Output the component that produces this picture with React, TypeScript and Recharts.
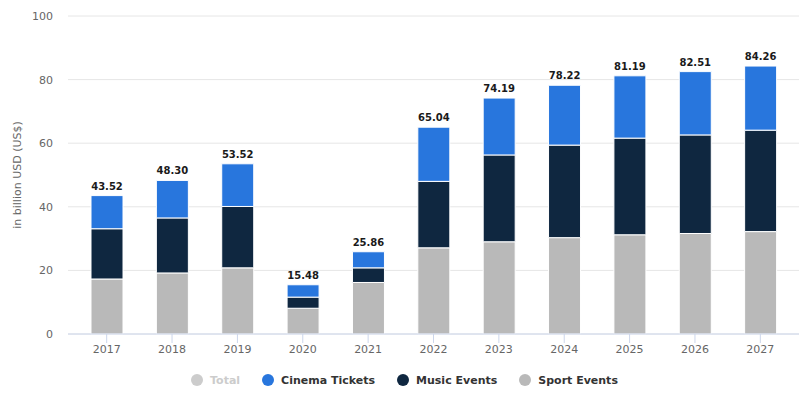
import React from "react";
import {
  ComposedChart,
  Bar,
  XAxis,
  YAxis,
  CartesianGrid,
  Legend,
  LabelList,
} from "recharts";

const years = ["2017", "2018", "2019", "2020", "2021", "2022", "2023", "2024", "2025", "2026", "2027"];
const sportEvents = [17.3, 19.2, 20.8, 8.1, 16.2, 27.1, 29.0, 30.3, 31.2, 31.6, 32.2];
const musicEvents = [15.8, 17.3, 19.3, 3.5, 4.6, 20.9, 27.3, 29.1, 30.4, 31.0, 31.9];
const totals = [43.52, 48.3, 53.52, 15.48, 25.86, 65.04, 74.19, 78.22, 81.19, 82.51, 84.26];
const yTicks = [0, 20, 40, 60, 80, 100];

const legendItems = [
  { name: "Total", color: "#cccccc", text: "#cccccc" },
  { name: "Cinema Tickets", color: "#2876dd", text: "#333333" },
  { name: "Music Events", color: "#0f2740", text: "#333333" },
  { name: "Sport Events", color: "#b9b9b9", text: "#333333" },
];

const FONT = "'DejaVu Sans', sans-serif";

// cinema = total minus the other two
const data = years.map((year, i) => ({
  year,
  sport: sportEvents[i],
  music: musicEvents[i],
  cinema: +(totals[i] - sportEvents[i] - musicEvents[i]).toFixed(2),
  total: totals[i],
}));

function ChartLegend() {
  return (
    <div
      style={{
        display: "flex",
        justifyContent: "center",
        alignItems: "center",
        height: 20,
        fontFamily: FONT,
        fontSize: 11,
        fontWeight: "bold",
        paddingLeft: 10,
      }}
    >
      {legendItems.map((item) => (
        <div key={item.name} style={{ display: "flex", alignItems: "center", margin: "0 11px" }}>
          <span
            style={{
              display: "inline-block",
              width: 12,
              height: 12,
              borderRadius: 6,
              background: item.color,
              marginRight: 7,
            }}
          />
          <span style={{ color: item.text }}>{item.name}</span>
        </div>
      ))}
    </div>
  );
}

export default function App() {
  return (
    <div style={{ position: "absolute", top: 0, left: 0, width: 801, height: 397, background: "#fff" }}>
      <ComposedChart
        width={801}
        height={397}
        data={data}
        margin={{ top: 16, right: 2, left: 0, bottom: 7 }}
      >
        <CartesianGrid vertical={false} stroke="#e6e6e6" />
        <XAxis
          dataKey="year"
          height={36}
          padding={{ left: 6, right: 6 }}
          axisLine={{ stroke: "#ccd6eb" }}
          tickLine={{ stroke: "#ccd6eb" }}
          tickSize={9}
          tickMargin={2}
          tick={{ fill: "#666666", fontSize: 11, fontFamily: FONT }}
        />
        <YAxis
          width={68}
          domain={[0, 100]}
          ticks={yTicks}
          axisLine={false}
          tickLine={false}
          tickSize={0}
          tickMargin={15}
          tick={{ fill: "#666666", fontSize: 11, fontFamily: FONT }}
          label={{
            value: "in billion USD (US$)",
            angle: -90,
            position: "insideLeft",
            offset: 17,
            style: { textAnchor: "middle", fill: "#666666", fontSize: 11, fontFamily: FONT },
          }}
        />
        <Legend verticalAlign="bottom" content={() => <ChartLegend />} />
        <Bar dataKey="sport" stackId="a" fill="#b9b9b9" stroke="#ffffff" strokeWidth={1} barSize={32} isAnimationActive={false} />
        <Bar dataKey="music" stackId="a" fill="#0f2740" stroke="#ffffff" strokeWidth={1} barSize={32} isAnimationActive={false} />
        <Bar dataKey="cinema" stackId="a" fill="#2876dd" stroke="#ffffff" strokeWidth={1} barSize={32} isAnimationActive={false}>
          <LabelList
            dataKey="total"
            position="top"
            offset={6}
            formatter={(v: any) => Number(v).toFixed(2)}
            style={{ fill: "#1a1a1a", fontSize: 10, fontWeight: "bold", fontFamily: FONT }}
          />
        </Bar>
      </ComposedChart>
    </div>
  );
}
